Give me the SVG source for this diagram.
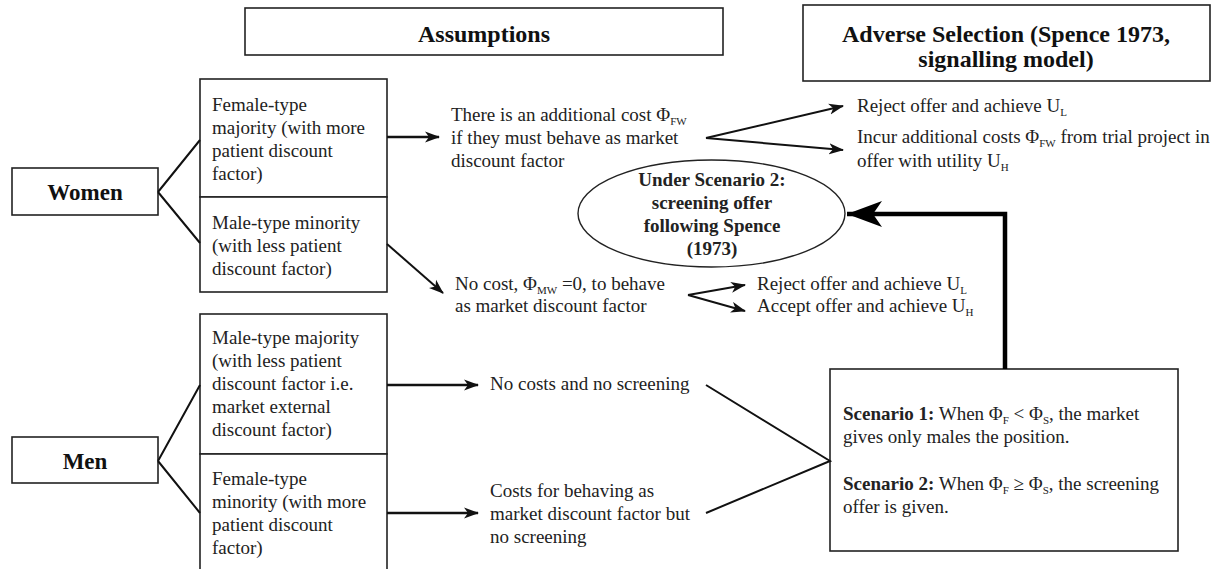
<svg xmlns="http://www.w3.org/2000/svg" width="1217" height="569" viewBox="0 0 1217 569">
<style>
.box{fill:#fff;stroke:#222;stroke-width:1.6}
.t{font-family:"Liberation Serif","Times New Roman",serif;font-size:19px;fill:#222}
.b{font-weight:bold}
.h{font-family:"Liberation Serif","Times New Roman",serif;font-size:24px;font-weight:bold;fill:#111}
.sub{font-size:11px}
.ln{stroke:#111;stroke-width:2;fill:none}
.dbl{stroke:#111;stroke-width:2.6;fill:none}
</style>
<defs>
<marker id="ah" markerWidth="15" markerHeight="12" refX="14" refY="6" orient="auto" markerUnits="userSpaceOnUse">
<path d="M0,0.5 L15,6 L0,11.5 L4,6 z" fill="#111"/>
</marker>
<marker id="big" markerWidth="36" markerHeight="28" refX="35" refY="14" orient="auto" markerUnits="userSpaceOnUse">
<path d="M0,1 L35,14 L0,27 L9,14 z" fill="#000"/>
</marker>
</defs>

<g id="header-assumptions">
<rect class="box" x="245" y="8" width="478" height="47"/>
<text class="h" x="484" y="42" text-anchor="middle">Assumptions</text>
</g>
<g id="header-adverse">
<rect class="box" x="803" y="5" width="407" height="76"/>
<text class="h" x="1006" y="42" text-anchor="middle">Adverse Selection (Spence 1973,</text>
<text class="h" x="1006" y="67" text-anchor="middle">signalling model)</text>
</g>

<g id="women">
<rect class="box" x="12" y="168" width="146" height="47"/>
<text class="h" x="85" y="200" text-anchor="middle" style="font-size:23px">Women</text>
</g>
<g id="men">
<rect class="box" x="12" y="437" width="146" height="46"/>
<text class="h" x="85" y="469" text-anchor="middle" style="font-size:23px">Men</text>
</g>

<g id="female-majority">
<rect class="box" x="200" y="79" width="187" height="118"/>
<text class="t" x="212" y="111">Female-type</text>
<text class="t" x="212" y="134">majority (with more</text>
<text class="t" x="212" y="157">patient discount</text>
<text class="t" x="212" y="180">factor)</text>
</g>
<g id="male-minority">
<rect class="box" x="200" y="197" width="187" height="95"/>
<text class="t" x="212" y="229">Male-type minority</text>
<text class="t" x="212" y="252">(with less patient</text>
<text class="t" x="212" y="275">discount factor)</text>
</g>
<g id="male-majority">
<rect class="box" x="200" y="314" width="187" height="140"/>
<text class="t" x="212" y="344">Male-type majority</text>
<text class="t" x="212" y="367">(with less patient</text>
<text class="t" x="212" y="390">discount factor i.e.</text>
<text class="t" x="212" y="413">market external</text>
<text class="t" x="212" y="436">discount factor)</text>
</g>
<g id="female-minority">
<rect class="box" x="200" y="454" width="187" height="125"/>
<text class="t" x="212" y="485">Female-type</text>
<text class="t" x="212" y="508">minority (with more</text>
<text class="t" x="212" y="531">patient discount</text>
<text class="t" x="212" y="554">factor)</text>
</g>

<g id="additional-cost">
<text class="t" x="451" y="121">There is an additional cost Φ<tspan class="sub" dy="4">FW</tspan></text>
<text class="t" x="451" y="144">if they must behave as market</text>
<text class="t" x="451" y="167">discount factor</text>
</g>
<g id="no-cost">
<text class="t" x="455" y="290">No cost, Φ<tspan class="sub" dy="4">MW</tspan><tspan dy="-4"> =0, to behave</tspan></text>
<text class="t" x="455" y="312">as market discount factor</text>
</g>
<g id="no-screening">
<text class="t" x="490" y="390">No costs and no screening</text>
</g>
<g id="costs-behaving">
<text class="t" x="490" y="497">Costs for behaving as</text>
<text class="t" x="490" y="520">market discount factor but</text>
<text class="t" x="490" y="543">no screening</text>
</g>
<g id="reject-1">
<text class="t" x="857" y="112">Reject offer and achieve U<tspan class="sub" dy="4">L</tspan></text>
</g>
<g id="incur">
<text class="t" x="857" y="143">Incur additional costs Φ<tspan class="sub" dy="4">FW</tspan><tspan dy="-4"> from trial project in</tspan></text>
<text class="t" x="857" y="167">offer with utility U<tspan class="sub" dy="4">H</tspan></text>
</g>
<g id="reject-2">
<text class="t" x="757" y="290">Reject offer and achieve U<tspan class="sub" dy="4">L</tspan></text>
</g>
<g id="accept">
<text class="t" x="757" y="312">Accept offer and achieve U<tspan class="sub" dy="4">H</tspan></text>
</g>

<g id="scenario-2-ellipse">
<ellipse cx="711.5" cy="213.5" rx="133.5" ry="53.5" fill="#fff" stroke="#222" stroke-width="1.4"/>
<text class="t b" x="712" y="186" text-anchor="middle">Under Scenario 2:</text>
<text class="t b" x="712" y="209" text-anchor="middle">screening offer</text>
<text class="t b" x="712" y="232" text-anchor="middle">following Spence</text>
<text class="t b" x="712" y="255" text-anchor="middle">(1973)</text>
</g>

<g id="scenarios">
<rect class="box" x="830" y="369" width="348" height="182"/>
<text class="t" x="843" y="420"><tspan class="b">Scenario 1:</tspan> When Φ<tspan class="sub" dy="4">F</tspan><tspan dy="-4"> &lt; Φ</tspan><tspan class="sub" dy="4">S</tspan><tspan dy="-4">, the market</tspan></text>
<text class="t" x="843" y="443">gives only males the position.</text>
<text class="t" x="843" y="490"><tspan class="b">Scenario 2:</tspan> When Φ<tspan class="sub" dy="4">F</tspan><tspan dy="-4"> ≥ Φ</tspan><tspan class="sub" dy="4">S</tspan><tspan dy="-4">, the screening</tspan></text>
<text class="t" x="843" y="513">offer is given.</text>
</g>

<g id="connectors">
<path class="ln" d="M158,192 L200,140 M158,192 L200,243"/>
<path class="ln" d="M158,461 L200,385 M158,461 L200,513"/>
<path class="dbl" d="M387,137 L439,137" marker-end="url(#ah)"/>
<path class="dbl" d="M387,385 L478,385" marker-end="url(#ah)"/>
<path class="dbl" d="M387,513 L478,513" marker-end="url(#ah)"/>
<path class="ln" d="M387,244 L443,293" marker-end="url(#ah)"/>
<path class="ln" d="M706,138 L843,106" marker-end="url(#ah)"/>
<path class="ln" d="M706,138 L843,150" marker-end="url(#ah)"/>
<path class="ln" d="M688,295 L745,285" marker-end="url(#ah)"/>
<path class="ln" d="M688,295 L745,311" marker-end="url(#ah)"/>
<path class="ln" d="M706,385 L830,461 L706,513"/>
<path d="M1005,369 L1005,214 L847,214" fill="none" stroke="#000" stroke-width="4.5" marker-end="url(#big)"/>
</g>
</svg>
